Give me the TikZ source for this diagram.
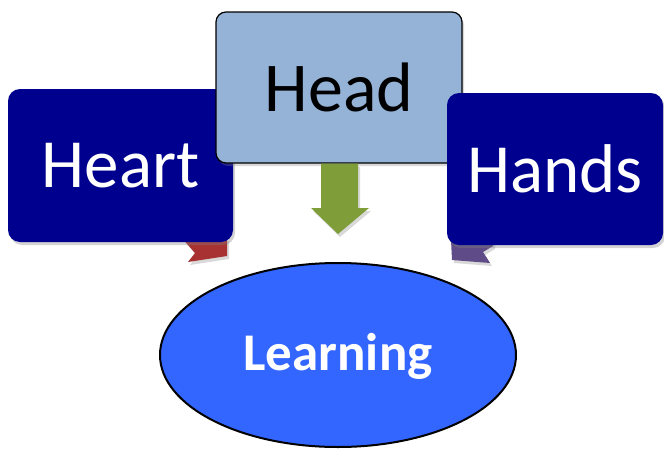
\documentclass[tikz,border=0pt]{standalone}
\usepackage{fontspec}
\setmainfont{Carlito}
\usetikzlibrary{shapes.geometric,shadows}
\definecolor{navy}{HTML}{00008E}
\definecolor{headblue}{HTML}{95B3D7}
\definecolor{learnblue}{HTML}{3366FF}
\definecolor{ribred}{HTML}{A83232}
\definecolor{ribpurple}{HTML}{5F4B87}
\definecolor{arrgreen}{HTML}{7F9E3A}
\tikzset{
  darkbox/.style={rectangle, rounded corners=12pt, fill=navy, text=white,
    font=\fontsize{69}{80}\selectfont, inner sep=0pt,
    drop shadow={opacity=0.35, shadow xshift=2pt, shadow yshift=-3pt}},
  lightbox/.style={rectangle, rounded corners=10pt, fill=headblue, draw=black, line width=1.2pt,
    text=black, font=\fontsize{70}{80}\selectfont, inner sep=0pt,
    drop shadow={opacity=0.3, shadow xshift=2pt, shadow yshift=-3pt}},
  ribbon/.style={draw=none, drop shadow={opacity=0.3, shadow xshift=2pt, shadow yshift=-3pt}},
}
\begin{document}
\begin{tikzpicture}[x=1pt,y=-1pt]
\useasboundingbox (0,0) rectangle (664,466);
% ribbons (under the boxes)
\coordinate (rA) at (182,238);
\coordinate (rB) at (195,253);
\coordinate (rC) at (188,262);
\coordinate (rD) at (227,256);
\coordinate (rE) at (227,238);
\fill[ribred, ribbon] (rA) -- (rB) -- (rC) -- (rD) -- (rE) -- cycle;
\coordinate (pA) at (451,240);
\coordinate (pB) at (452,260);
\coordinate (pC) at (490,263);
\coordinate (pD) at (483,252);
\coordinate (pE) at (493,246);
\coordinate (pF) at (493,240);
\fill[ribpurple, ribbon] (pA) -- (pB) -- (pC) -- (pD) -- (pE) -- (pF) -- cycle;
% boxes
\node[darkbox, minimum width=225pt, minimum height=153pt] (heart) at (120.5,165.5) {Heart};
\node[lightbox, minimum width=246pt, minimum height=151pt] (head) at (339,87.5) {Head};
\node[darkbox, minimum width=216pt, minimum height=152pt] (hands) at (555,169) {Hands};
% green arrow
\fill[arrgreen, drop shadow={opacity=0.3, shadow xshift=2pt, shadow yshift=-3pt}]
  ([xshift=-18pt]head.south) -- ([xshift=-18pt]head.south |- 0,208)
  -- ([xshift=-28pt]head.south |- 0,208) -- (338,234)
  -- ([xshift=30pt]head.south |- 0,208) -- ([xshift=19pt]head.south |- 0,208)
  -- ([xshift=19pt]head.south) -- cycle;
% ellipse
\node[ellipse, fill=learnblue, draw=black, line width=2pt, minimum width=356pt, minimum height=184pt,
  inner sep=0pt] (learn) at (338,355) {};
\node[text=white, font=\fontsize{53}{60}\selectfont\bfseries, anchor=base] (learntext) at (338,370) {Learning};
\end{tikzpicture}
\end{document}
